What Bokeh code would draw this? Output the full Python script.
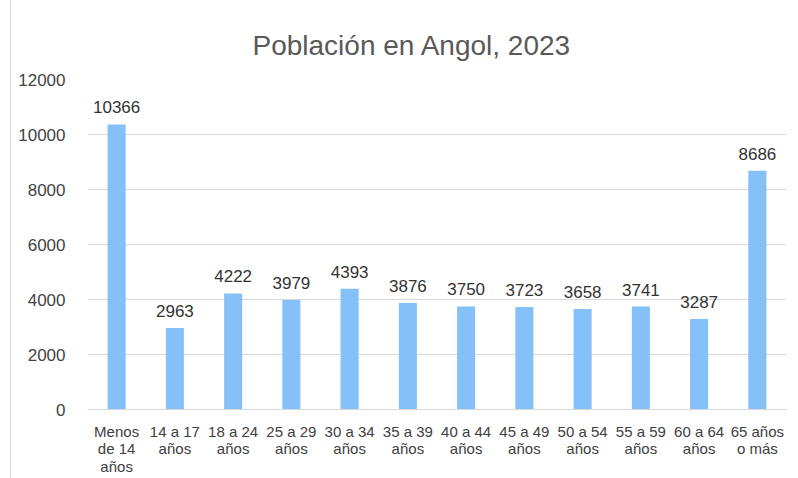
from bokeh.plotting import figure
from bokeh.models import ColumnDataSource, Range1d, FactorRange
from bokeh.core.properties import value
from bokeh.embed import file_html
from bokeh.resources import INLINE

categories = ["Menos\nde 14\naños", "14 a 17\naños", "18 a 24\naños", "25 a 29\naños",
              "30 a 34\naños", "35 a 39\naños", "40 a 44\naños", "45 a 49\naños",
              "50 a 54\naños", "55 a 59\naños", "60 a 64\naños", "65 años\no más"]
values = [10366, 2963, 4222, 3979, 4393, 3876, 3750, 3723, 3658, 3741, 3287, 8686]
y_ticks = [0, 2000, 4000, 6000, 8000, 10000, 12000]
title_text = "Población en Angol, 2023"

FONT = "Liberation Sans"

src = ColumnDataSource(dict(cat=categories, val=values, lbl=[str(v) for v in values]))

p = figure(width=779, height=478, x_range=FactorRange(*categories), y_range=Range1d(0, 12000),
           output_backend="svg", toolbar_location=None, title=title_text,
           min_border_left=76, min_border_right=4, min_border_top=79, min_border_bottom=60)
p.styles = {"border-left": "1px solid #d9d9d9", "margin-left": "10px"}
p.outline_line_color = None
p.background_fill_color = "white"
p.border_fill_color = "white"

p.title.align = "left"
p.title.offset = 165
p.title.standoff = 38
p.title.text_font = FONT
p.title.text_font_size = "28px"
p.title.text_font_style = "normal"
p.title.text_color = "#595959"

p.vbar(x="cat", top="val", width=0.31, source=src, fill_color="#85C0F8", line_color=None)
p.text(x="cat", y="val", text="lbl", source=src, text_align="center", text_baseline="bottom",
       y_offset=-11, text_font=value(FONT), text_font_size="17px", text_color="#333333")

p.xgrid.grid_line_color = None
p.ygrid.grid_line_color = "#d9d9d9"
p.ygrid.grid_line_width = 1
p.yaxis.ticker = y_ticks
p.yaxis.axis_line_color = None
p.yaxis.major_tick_line_color = None
p.yaxis.minor_tick_line_color = None
p.yaxis.major_label_standoff = 16
p.yaxis.major_label_text_font = FONT
p.yaxis.major_label_text_font_size = "17px"
p.yaxis.major_label_text_color = "#444444"

p.xaxis.axis_line_color = "#d9d9d9"
p.xaxis.major_tick_line_color = None
p.xaxis.minor_tick_line_color = None
p.xaxis.major_tick_out = 0
p.xaxis.major_tick_in = 0
p.xaxis.major_label_standoff = 13
p.xaxis.major_label_text_line_height = 1.05
p.xaxis.major_label_text_font = FONT
p.xaxis.major_label_text_font_size = "15px"
p.xaxis.major_label_text_color = "#404040"

open("out.html", "w").write(file_html(p, INLINE))
